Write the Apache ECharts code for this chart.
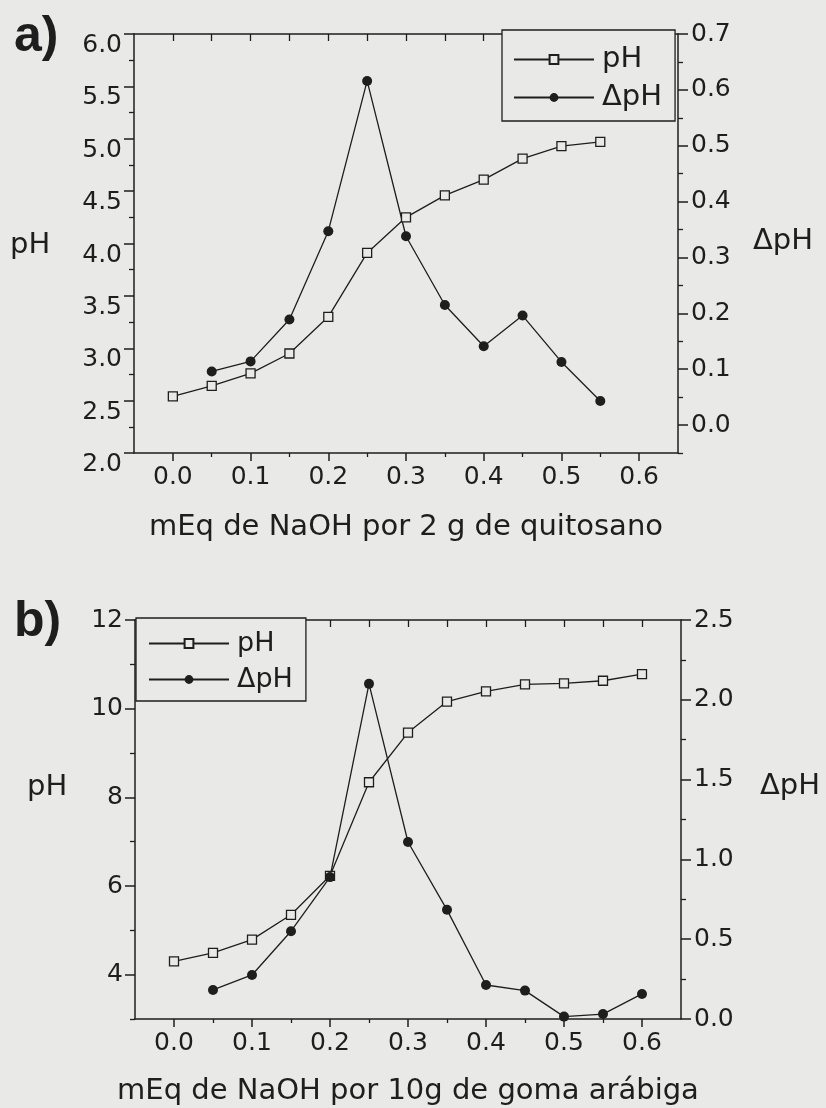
<!DOCTYPE html>
<html><head><meta charset="utf-8">
<script src="https://cdn.jsdelivr.net/npm/echarts@6/dist/echarts.min.js"></script>
<style>html,body{margin:0;padding:0;background:#e9e9e7}#c{width:826px;height:1108px}</style>
</head><body><div id="c"></div>
<script>
// ---------- data ----------
const xA    = [0.00, 0.05, 0.10, 0.15, 0.20, 0.25, 0.30, 0.35, 0.40, 0.45, 0.50, 0.55];
const pHA   = [2.54, 2.64, 2.76, 2.95, 3.30, 3.91, 4.25, 4.46, 4.61, 4.81, 4.93, 4.97];
const xDA   = [0.05, 0.10, 0.15, 0.20, 0.25, 0.30, 0.35, 0.40, 0.45, 0.50, 0.55];
const dpHA  = [0.096, 0.114, 0.189, 0.347, 0.616, 0.338, 0.215, 0.141, 0.196, 0.113, 0.043];

const xB    = [0.00, 0.05, 0.10, 0.15, 0.20, 0.25, 0.30, 0.35, 0.40, 0.45, 0.50, 0.55, 0.60];
const pHB   = [4.30, 4.49, 4.79, 5.35, 6.23, 8.34, 9.46, 10.16, 10.39, 10.55, 10.57, 10.63, 10.78];
const xDB   = [0.05, 0.10, 0.15, 0.20, 0.25, 0.30, 0.35, 0.40, 0.45, 0.50, 0.55, 0.60];
const dpHB  = [0.182, 0.276, 0.55, 0.889, 2.10, 1.109, 0.684, 0.213, 0.178, 0.015, 0.031, 0.157];

// ---------- tick labels ----------
const xLabels     = [0.0, 0.1, 0.2, 0.3, 0.4, 0.5, 0.6];
const xMinor      = [0.05, 0.15, 0.25, 0.35, 0.45, 0.55];
const xTop        = [0.0, 0.05, 0.1, 0.15, 0.2, 0.25, 0.3, 0.35, 0.4, 0.45, 0.5, 0.55, 0.6];
const yLeftALab   = [2.0, 2.5, 3.0, 3.5, 4.0, 4.5, 5.0, 5.5, 6.0];
const yLeftAMin   = [2.25, 2.75, 3.25, 3.75, 4.25, 4.75, 5.25, 5.75];
const yRightALab  = [0.0, 0.1, 0.2, 0.3, 0.4, 0.5, 0.6, 0.7];
const yRightAMin  = [-0.05, 0.05, 0.15, 0.25, 0.35, 0.45, 0.55, 0.65];
const yLeftBLab   = [4, 6, 8, 10, 12];
const yLeftBMin   = [3, 5, 7, 9, 11];
const yRightBLab  = [0.0, 0.5, 1.0, 1.5, 2.0, 2.5];
const yRightBMin  = [0.25, 0.75, 1.25, 1.75, 2.25];

const xNameA = 'mEq de NaOH por 2 g de quitosano';
const xNameB = 'mEq de NaOH por 10g de goma arábiga';

// ---------- style ----------
const F = 'DejaVu Sans';
const INK = '#1e1e1e';
const BG = '#e9e9e7';
const axLine = {show: true, onZero: false, lineStyle: {color: INK, width: 1.5}};
const noLine = {show: false, onZero: false};
const lblStyle = {fontFamily: F, fontSize: 25, color: INK};

const zip = (xs, ys) => xs.map((x, i) => [x, ys[i]]);

function xAxes(grid, name, gap) {
  return [
    {gridIndex: grid, type: 'value', position: 'bottom', min: -0.05, max: 0.65,
     axisLine: axLine, splitLine: {show: false},
     axisTick: {show: true, inside: false, length: 8, lineStyle: {color: INK, width: 1.5}, customValues: xLabels},
     axisLabel: Object.assign({show: true, margin: 12, customValues: xLabels, formatter: v => v.toFixed(1)}, lblStyle),
     name: name, nameLocation: 'middle', nameGap: gap,
     nameTextStyle: {fontFamily: F, fontSize: 29, color: INK}},
    {gridIndex: grid, type: 'value', position: 'bottom', min: -0.05, max: 0.65,
     axisLine: noLine, splitLine: {show: false}, axisLabel: {show: false},
     axisTick: {show: true, inside: false, length: 4, lineStyle: {color: INK, width: 1.3}, customValues: xMinor}},
    {gridIndex: grid, type: 'value', position: 'top', min: -0.05, max: 0.65,
     axisLine: axLine, splitLine: {show: false}, axisLabel: {show: false},
     axisTick: {show: true, inside: true, length: 7, lineStyle: {color: INK, width: 1.3}, customValues: xTop}}
  ];
}

function yAxis(grid, pos, min, max, labs, minors, fmt, extraLabel) {
  return [
    {gridIndex: grid, type: 'value', position: pos, min: min, max: max,
     axisLine: axLine, splitLine: {show: false},
     axisTick: {show: true, length: 10, lineStyle: {color: INK, width: 1.5}, customValues: labs},
     axisLabel: Object.assign({margin: pos === 'left' ? 12 : 13, customValues: labs, formatter: fmt}, lblStyle, extraLabel || {})},
    {gridIndex: grid, type: 'value', position: pos, min: min, max: max,
     axisLine: noLine, splitLine: {show: false}, axisLabel: {show: false},
     axisTick: {show: true, length: 5, lineStyle: {color: INK, width: 1.3}, customValues: minors}}
  ];
}

const f1 = v => v.toFixed(1);
const f0 = v => String(v);

const option = {
  backgroundColor: BG,
  animation: false,
  grid: [
    {left: 134, top: 34, width: 544, height: 419},
    {left: 135, top: 620, width: 546, height: 399}
  ],
  xAxis: [].concat(xAxes(0, xNameA, 60), xAxes(1, xNameB, 58)),
  yAxis: [].concat(
    yAxis(0, 'left', 2, 6, yLeftALab, yLeftAMin, f1, {verticalAlign: 'top', padding: [-1, 0, 0, 0]}),   // 0,1
    yAxis(0, 'right', -0.05, 0.7, yRightALab, yRightAMin, f1),                                           // 2,3
    yAxis(1, 'left', 3, 12, yLeftBLab, yLeftBMin, f0),                                                   // 4,5
    yAxis(1, 'right', 0, 2.5, yRightBLab, yRightBMin, f1)                                                // 6,7
  ),
  legend: [
    {data: ['pH', 'ΔpH'], orient: 'vertical', left: 502, top: 30, padding: [15, 13, 9, 11],
     itemWidth: 80, itemHeight: 11, itemGap: 9, borderColor: INK, borderWidth: 1.3, backgroundColor: BG,
     textStyle: {fontFamily: F, fontSize: 29, color: INK, padding: [0, 0, 0, 3]}},
    {data: ['pH', 'ΔpH'], orient: 'vertical', left: 136, top: 618, padding: [12, 13, 8, 12],
     itemWidth: 80, itemHeight: 11, itemGap: 9, borderColor: INK, borderWidth: 1.3, backgroundColor: BG,
     textStyle: {fontFamily: F, fontSize: 27, color: INK, padding: [0, 0, 0, 3]}}
  ],
  graphic: [
    {type: 'text', style: {text: 'a)', x: 14, y: 37, fill: INK, font: 'bold 50px "Liberation Sans"', verticalAlign: 'middle'}},
    {type: 'text', style: {text: 'b)', x: 14, y: 622, fill: INK, font: 'bold 50px "Liberation Sans"', verticalAlign: 'middle'}},
    {type: 'text', style: {text: 'pH', x: 10, y: 245, fill: INK, font: '29px "DejaVu Sans"', verticalAlign: 'middle'}},
    {type: 'text', style: {text: 'ΔpH', x: 753, y: 241, fill: INK, font: '29px "DejaVu Sans"', verticalAlign: 'middle'}},
    {type: 'text', style: {text: 'pH', x: 27, y: 787, fill: INK, font: '29px "DejaVu Sans"', verticalAlign: 'middle'}},
    {type: 'text', style: {text: 'ΔpH', x: 760, y: 786, fill: INK, font: '29px "DejaVu Sans"', verticalAlign: 'middle'}}
  ],
  series: [
    {name: 'pH', type: 'line', xAxisIndex: 0, yAxisIndex: 0, data: zip(xA, pHA),
     symbol: 'rect', symbolSize: 9, lineStyle: {color: INK, width: 1.3},
     itemStyle: {color: BG, borderColor: INK, borderWidth: 1.3}},
    {name: 'ΔpH', type: 'line', xAxisIndex: 0, yAxisIndex: 2, data: zip(xDA, dpHA),
     symbol: 'circle', symbolSize: 10, lineStyle: {color: INK, width: 1.3},
     itemStyle: {color: INK}},
    {name: 'pH', type: 'line', xAxisIndex: 3, yAxisIndex: 4, data: zip(xB, pHB),
     symbol: 'rect', symbolSize: 9, lineStyle: {color: INK, width: 1.3},
     itemStyle: {color: BG, borderColor: INK, borderWidth: 1.3}},
    {name: 'ΔpH', type: 'line', xAxisIndex: 3, yAxisIndex: 6, data: zip(xDB, dpHB),
     symbol: 'circle', symbolSize: 10, lineStyle: {color: INK, width: 1.3},
     itemStyle: {color: INK}}
  ]
};
const chart = echarts.init(document.getElementById('c'), null, {renderer: 'canvas'});
chart.setOption(option);
</script></body></html>
